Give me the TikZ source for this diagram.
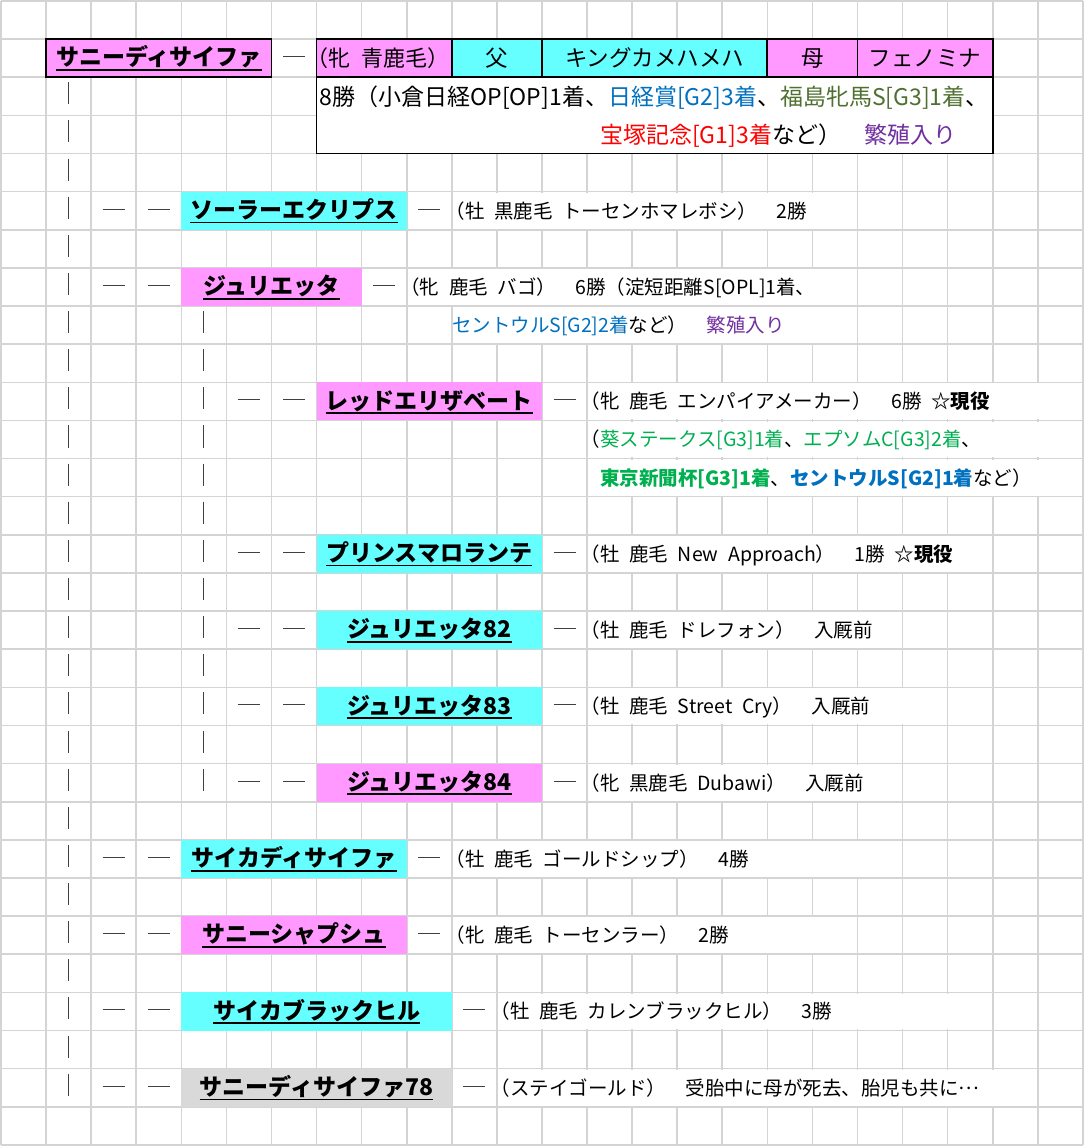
\documentclass[tikz,border=0pt]{standalone}
\usepackage{fontspec}
\setmainfont{Noto Sans CJK JP}[WordSpace=2.2]
\definecolor{pinkc}{HTML}{FF99FF}
\definecolor{cyanc}{HTML}{66FFFF}
\definecolor{grayc}{HTML}{D9D9D9}
\definecolor{gridc}{HTML}{D4D4D4}
\definecolor{bluec}{HTML}{0070C0}
\definecolor{oliveg}{HTML}{4F7030}
\definecolor{greenc}{HTML}{00B050}
\definecolor{redc}{HTML}{FF0000}
\definecolor{purplec}{HTML}{7030A0}
\definecolor{tickc}{HTML}{404040}
\tikzset{
  grid line/.style={draw=gridc, line width=1.6pt},
  cell box/.style={inner sep=0pt, outer sep=0pt, minimum height=38.13pt},
  hcell/.style={cell box, draw=black, line width=1.8pt, font=\fontsize{22.5}{24}\selectfont, text height=19.8pt, text depth=2.7pt},
  nametext/.style={inner sep=0pt, font=\fontsize{23}{25}\selectfont\bfseries, text height=20.2pt, text depth=2.8pt},
  info/.style={inner sep=0pt, anchor=west, font=\fontsize{19.5}{22}\selectfont, text height=17.2pt, text depth=2.3pt},
  biginfo/.style={inner sep=0pt, anchor=west, font=\fontsize{22}{24}\selectfont, text height=19.4pt, text depth=2.6pt},
  boxinfo/.style={inner sep=0pt, anchor=west, font=\fontsize{23}{25}\selectfont, text height=20.2pt, text depth=2.8pt},
  uline/.style={line width=1.8pt, black},
  tick/.style={draw=tickc, line width=1pt},
}
\newcommand\NameBox[6]{%
  \node[cell box, minimum width=#4*45.08pt, #5] (#1) at ({#2+#4/2},{#3+0.5}) {};
  \node[nametext] (#1t) at ([yshift=1pt]#1.center) {#6};
  \draw[uline] ([yshift=-1pt]#1t.south west) -- ([yshift=-1pt]#1t.south east);
}
\newcommand\jpdots{\raisebox{0.3em}{…}}
\begin{document}
\begin{tikzpicture}[x=45.08pt, y=-38.13pt]
\useasboundingbox (-0.02218,-0.02623) rectangle (24.0461,30.0551);
\fill[white] (-0.02218,-0.02623) rectangle (24.0461,30.0551);
% grid
\foreach \i in {0,...,24} \draw[grid line] (\i,0) -- (\i,30);
\foreach \j in {0,...,30} \draw[grid line] (0,\j) -- (24,\j);
% text overflow areas (hide vertical grid lines)
\foreach \r/\a/\b in {5/10/19, 7/9/19, 8/10/19, 10/13/24, 11/13/24, 12/13/24, 14/13/22, 16/13/20, 18/13/21, 20/13/20, 22/10/20, 24/10/19, 26/11/22, 28/11/23}
  \fill[white] ({\a+0.02},{\r+0.03}) rectangle ({\b-0.02},{\r+0.97});

% header
\node[cell box, draw=black, line width=1.8pt, fill=white, minimum width=15*45.08pt, minimum height=2*38.13pt] (infobox) at (14.5,3) {};
\NameBox{sunny}{1}{1}{5}{fill=pinkc, draw=black, line width=1.8pt}{サニーディサイファ}
\node[hcell, fill=pinkc, minimum width=3*45.08pt] (sex) at (8.5,1.5) {};
\node[biginfo] (sext) at ([xshift=-10pt]7,1.5) {（牝 青鹿毛）};
\node[hcell, fill=cyanc, minimum width=2*45.08pt] (sire) at (11,1.5) {父};
\node[hcell, fill=cyanc, minimum width=5*45.08pt] (sirename) at (14.5,1.5) {キングカメハメハ};
\node[hcell, fill=pinkc, minimum width=2*45.08pt] (dam) at (18,1.5) {母};
\node[hcell, fill=pinkc, minimum width=3*45.08pt] (damname) at (20.5,1.5) {フェノミナ};
\node[boxinfo] (infoa) at ([xshift=3pt]7,2.5) {8勝（小倉日経OP[OP]1着、\textcolor{bluec}{日経賞[G2]3着}、\textcolor{oliveg}{福島牝馬S[G3]1着}、};
\node[boxinfo] (infob) at (13.287,3.5) {\textcolor{redc}{宝塚記念[G1]3着}など）　\textcolor{purplec}{繁殖入り}};

% children
\NameBox{solar}{4}{5}{5}{fill=cyanc}{ソーラーエクリプス}
\node[info] (solari) at ([xshift=-6.5pt]10,5.5) {（牡 黒鹿毛 トーセンホマレボシ）　2勝};
\NameBox{juli}{4}{7}{4}{fill=pinkc}{ジュリエッタ}
\node[info] (julii) at ([xshift=-6.5pt]9,7.5) {（牝 鹿毛 バゴ）　6勝（淀短距離S[OPL]1着、};
\node[info] (julij) at (10,8.5) {\textcolor{bluec}{セントウルS[G2]2着}など）　\textcolor{purplec}{繁殖入り}};
\NameBox{red}{7}{10}{5}{fill=pinkc}{レッドエリザベート}
\node[info] (redi) at ([xshift=-6.5pt]13,10.5) {（牝 鹿毛 エンパイアメーカー）　6勝 \textbf{☆現役}};
\node[info] (redj) at ([xshift=-6.5pt]13,11.5) {（\textcolor{greenc}{葵ステークス[G3]1着}、\textcolor{greenc}{エプソムC[G3]2着}、};
\node[info] (redk) at ([xshift=13pt]13,12.5) {\textcolor{greenc}{\textbf{東京新聞杯[G3]1着}}、\textcolor{bluec}{\textbf{セントウルS[G2]1着}}など）};
\NameBox{prince}{7}{14}{5}{fill=cyanc}{プリンスマロランテ}
\node[info] (princei) at ([xshift=-6.5pt]13,14.5) {（牡 鹿毛 New Approach）　1勝 \textbf{☆現役}};
\NameBox{jb}{7}{16}{5}{fill=cyanc}{ジュリエッタ82}
\node[info] (jbi) at ([xshift=-6.5pt]13,16.5) {（牡 鹿毛 ドレフォン）　入厩前};
\NameBox{jc}{7}{18}{5}{fill=cyanc}{ジュリエッタ83}
\node[info] (jci) at ([xshift=-6.5pt]13,18.5) {（牡 鹿毛 Street Cry）　入厩前};
\NameBox{jd}{7}{20}{5}{fill=pinkc}{ジュリエッタ84}
\node[info] (jdi) at ([xshift=-6.5pt]13,20.5) {（牝 黒鹿毛 Dubawi）　入厩前};
\NameBox{saika}{4}{22}{5}{fill=cyanc}{サイカディサイファ}
\node[info] (saikai) at ([xshift=-6.5pt]10,22.5) {（牡 鹿毛 ゴールドシップ）　4勝};
\NameBox{shap}{4}{24}{5}{fill=pinkc}{サニーシャプシュ}
\node[info] (shapi) at ([xshift=-6.5pt]10,24.5) {（牝 鹿毛 トーセンラー）　2勝};
\NameBox{black}{4}{26}{6}{fill=cyanc}{サイカブラックヒル}
\node[info] (blacki) at ([xshift=-6.5pt]11,26.5) {（牡 鹿毛 カレンブラックヒル）　3勝};
\NameBox{seventy}{4}{28}{6}{fill=grayc}{サニーディサイファ78}
\node[info] (seventyi) at ([xshift=-6.5pt]11,28.5) {（ステイゴールド）　受胎中に母が死去、胎児も共に\jpdots};

% tree ticks
\foreach \r in {2,...,28} \draw[tick] (1.5,{\r+0.132}) -- (1.5,{\r+0.71});
\foreach \r in {8,...,20} \draw[tick] (4.5,{\r+0.132}) -- (4.5,{\r+0.71});
\foreach \c/\r in {6/1, 2/5, 3/5, 9/5, 2/7, 3/7, 8/7, 5/10, 6/10, 12/10, 5/14, 6/14, 12/14, 5/16, 6/16, 12/16, 5/18, 6/18, 12/18, 5/20, 6/20, 12/20, 2/22, 3/22, 9/22, 2/24, 3/24, 9/24, 2/26, 3/26, 10/26, 2/28, 3/28, 10/28}
  \draw[tick] ({\c+0.256},{\r+0.46}) -- ({\c+0.744},{\r+0.46});
\end{tikzpicture}
\end{document}
